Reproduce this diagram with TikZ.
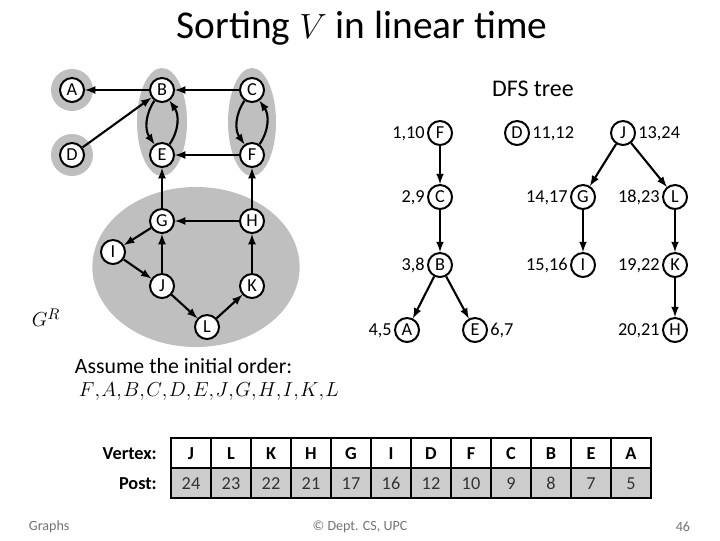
\documentclass[tikz,border=0pt]{standalone}
\usepackage{fontspec}
\setmainfont{Carlito}
\usetikzlibrary{shapes,arrows,positioning,calc}

\begin{document}
\begin{tikzpicture}[
    x=0.025cm, y=-0.025cm,
    vtx/.style={circle,draw,fill=white,line width=1.4pt,minimum size=0.6cm,inner sep=0pt,
                font=\fontsize{13}{15}\selectfont},
    arr/.style={->,>=latex,line width=1.5pt},
    blob/.style={fill=black!25,draw=none},
    lbl/.style={font=\fontsize{13}{15}\selectfont,inner sep=1.5pt,text height=9pt,text depth=1pt},
    cell/.style={rectangle,draw,line width=1.2pt,minimum width=1cm,minimum height=0.75cm,
                 inner sep=0pt,text height=9pt,text depth=0pt,font=\fontsize{13}{15}\selectfont},
    rowname/.style={font=\fontsize{13}{15}\selectfont\bfseries,text height=9pt,text depth=0pt},
    foot/.style={font=\fontsize{10}{12}\selectfont,text=black!55}
]
\useasboundingbox (0,0) rectangle (720,540);

% Title
\node[font=\fontsize{28}{32}\selectfont] (title) at (362,28) {Sorting $V$ in linear time};

% Graph G^R: components
\fill[blob] (72,90) circle (0.525cm);
\fill[blob] (72,155) circle (0.525cm);
\fill[blob] (162,122) ellipse [x radius=0.625cm, y radius=1.35cm];
\fill[blob] (252,122) ellipse [x radius=0.6cm, y radius=1.35cm];
\fill[blob] (196,267) ellipse [x radius=2.59cm, y radius=2cm];

\node[vtx] (A) at (72,90) {A};
\node[vtx] (B) at (162,90) {B};
\node[vtx] (C) at (252,90) {C};
\node[vtx] (D) at (72,155) {D};
\node[vtx] (E) at (162,155) {E};
\node[vtx] (F) at (252,155) {F};
\node[vtx] (G) at (162,221) {G};
\node[vtx] (H) at (252,221) {H};
\node[vtx] (I) at (113,252) {I};
\node[vtx] (J) at (162,286) {J};
\node[vtx] (K) at (252,286) {K};
\node[vtx] (L) at (207,327) {L};

\draw[arr] (B) -- (A);
\draw[arr] (C) -- (B);
\draw[arr] (D) -- (B);
\draw[arr] (B) to[bend right=35] (E);
\draw[arr] (E) to[bend right=35] (B);
\draw[arr] (C) to[bend right=35] (F);
\draw[arr] (F) to[bend right=35] (C);
\draw[arr] (F) -- (E);
\draw[arr] (G) -- (E);
\draw[arr] (H) -- (F);
\draw[arr] (H) -- (G);
\draw[arr] (G) -- (I);
\draw[arr] (I) -- (J);
\draw[arr] (J) -- (G);
\draw[arr] (J) -- (L);
\draw[arr] (L) -- (K);
\draw[arr] (K) -- (H);

\node[font=\fontsize{15}{18}\selectfont] (gr) at (46,318) {$G^R$};
\node[font=\fontsize{15.5}{18}\selectfont,anchor=west] (assume) at (70,366) {Assume the initial order:};
\node[font=\fontsize{14}{18}\selectfont,anchor=west] (order) at (74,392)
  {$F{,}\mkern1.3mu A{,}\mkern1.3mu B{,}\mkern1.3mu C{,}\mkern1.3mu D{,}\mkern1.3mu E{,}\mkern1.3mu J{,}\mkern1.3mu G{,}\mkern1.3mu H{,}\mkern1.3mu I{,}\mkern1.3mu K{,}\mkern1.3mu L$};

% DFS tree
\node[font=\fontsize{17}{20}\selectfont] (dfs) at (533,89) {DFS tree};

\node[vtx,label={[lbl]left:{1,10}}] (tF) at (440,133) {F};
\node[vtx,label={[lbl]right:{11,12}}] (tD) at (517,133) {D};
\node[vtx,label={[lbl]right:{13,24}}] (tJ) at (623,133) {J};
\node[vtx,label={[lbl]left:{2,9}}] (tC) at (440,197) {C};
\node[vtx,label={[lbl]left:{14,17}}] (tG) at (583,197) {G};
\node[vtx,label={[lbl]left:{18,23}}] (tL) at (675,197) {L};
\node[vtx,label={[lbl]left:{3,8}}] (tB) at (440,265) {B};
\node[vtx,label={[lbl]left:{15,16}}] (tI) at (583,265) {I};
\node[vtx,label={[lbl]left:{19,22}}] (tK) at (675,265) {K};
\node[vtx,label={[lbl]left:{4,5}}] (tA) at (407,330) {A};
\node[vtx,label={[lbl]right:{6,7}}] (tE) at (475,330) {E};
\node[vtx,label={[lbl]left:{20,21}}] (tH) at (675,330) {H};

\draw[arr] (tF) -- (tC);
\draw[arr] (tC) -- (tB);
\draw[arr] (tB) -- (tA);
\draw[arr] (tB) -- (tE);
\draw[arr] (tJ) -- (tG);
\draw[arr] (tJ) -- (tL);
\draw[arr] (tG) -- (tI);
\draw[arr] (tL) -- (tK);
\draw[arr] (tK) -- (tH);

% Table
\foreach \v/\p [count=\i] in {J/24,L/23,K/22,H/21,G/17,I/16,D/12,F/10,C/9,B/8,E/7,A/5} {
  \node[cell,font=\fontsize{13}{15}\selectfont\bfseries] (v\i) at ({151+40*\i},453) {\v};
  \node[cell,fill=black!20,text=black!80] (p\i) at ({151+40*\i},483) {\p};
}
\node[rowname,left=6pt of v1] (vlab) {Vertex:};
\node[rowname,left=6pt of p1] (plab) {Post:};

% Footer
\node[foot,anchor=west] (f1) at (24,527) {Graphs};
\node[foot] (f2) at (360,527) {© Dept. CS, UPC};
\node[foot,anchor=east] (f3) at (695,527) {46};
\end{tikzpicture}
\end{document}
